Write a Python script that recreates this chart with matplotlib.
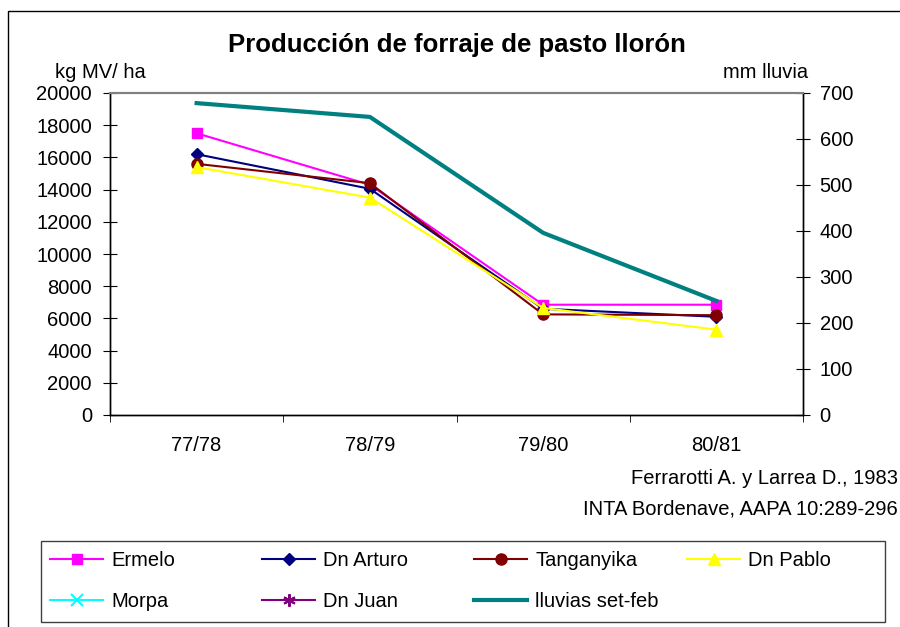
import matplotlib.pyplot as plt
import numpy as np

plt.rcParams['font.family'] = ['Liberation Sans', 'DejaVu Sans']

campanas = ['77/78', '78/79', '79/80', '80/81']
ermelo = [17500, 14300, 6850, 6850]
dn_arturo = [16200, 14050, 6600, 6100]
tanganyika = [15600, 14400, 6250, 6200]
dn_pablo = [15400, 13500, 6650, 5300]
morpa = [np.nan] * 4
dn_juan = [np.nan] * 4
lluvias = [678, 648, 396, 248]

FS = 14.5

fig = plt.figure(figsize=(9, 6.27), dpi=100)
ax = fig.add_axes([110 / 900, 1 - 415 / 627, 693 / 900, 322 / 627])
ax2 = ax.twinx()

x = np.arange(len(campanas))
h_erm, = ax.plot(x, ermelo, color='#ff00ff', marker='s', ms=6.5, lw=1.5, label='Ermelo')
h_art, = ax.plot(x, dn_arturo, color='#000080', marker='D', ms=6, lw=1.5, label='Dn Arturo')
h_tan, = ax.plot(x, tanganyika, color='#800000', marker='o', ms=8, lw=1.5, label='Tanganyika')
h_pab, = ax.plot(x, dn_pablo, color='#ffff00', marker='^', ms=8.5, lw=1.5, label='Dn Pablo')
h_mor, = ax.plot(x, morpa, color='#00ffff', marker='x', ms=8, mew=1.5, lw=1.5, label='Morpa')
h_jua, = ax.plot(x, dn_juan, color='#800080', marker=(6, 2, 0), ms=9, mew=1.5, lw=1.5, label='Dn Juan')
h_llu, = ax2.plot(x, lluvias, color='#008080', lw=3, label='lluvias set-feb')

ax.set_xlim(-0.5, 3.5)
ax.set_ylim(0, 20000)
ax.set_yticks(range(0, 20001, 2000))
ax2.set_ylim(0, 700)
ax2.set_yticks(range(0, 701, 100))
ax.set_xticks(x)
ax.set_xticklabels(campanas)
ax.set_xticks(np.arange(-0.5, 4, 1), minor=True)
ax.tick_params(axis='x', which='major', length=0, labelsize=FS, pad=15)
ax.tick_params(axis='x', which='minor', length=5, direction='out')
ax.tick_params(axis='y', length=10, direction='inout', labelsize=FS, pad=8)
ax2.tick_params(axis='y', length=10, direction='inout', labelsize=FS, pad=7)

for a in (ax, ax2):
    for s in a.spines.values():
        s.set_linewidth(1)
    a.spines['top'].set_color('#808080')
    a.spines['top'].set_linewidth(1.5)

fig.text(457 / 900, 1 - 45 / 627, 'Producción de forraje de pasto llorón',
         ha='center', va='center', fontsize=18.5, fontweight='bold')
fig.text(55 / 900, 1 - 72 / 627, 'kg MV/ ha', ha='left', va='center', fontsize=FS)
fig.text(808 / 900, 1 - 72 / 627, 'mm lluvia', ha='right', va='center', fontsize=FS)
fig.text(898 / 900, 1 - 479 / 627, 'Ferrarotti A. y Larrea D., 1983', ha='right', va='center', fontsize=FS)
fig.text(898 / 900, 1 - 509 / 627, 'INTA Bordenave, AAPA 10:289-296', ha='right', va='center', fontsize=FS)

# outer chart frame
fig.add_artist(plt.Rectangle((8 / 900, -0.01), 1.0, 1 - 11 / 627 + 0.01, transform=fig.transFigure,
                             fill=False, edgecolor='black', lw=1))

# legend frame and four columns
fig.add_artist(plt.Rectangle((41 / 900, 1 - 622 / 627), 844 / 900, 81 / 627, transform=fig.transFigure,
                             fill=False, edgecolor='#404040', lw=1))
columnas = [(50, [h_erm, h_mor]), (262, [h_art, h_jua]), (474, [h_tan, h_llu]), (687, [h_pab])]
for x0, hs in columnas:
    fig.legend(handles=hs, loc='upper left', bbox_to_anchor=(x0 / 900, 1 - 551 / 627),
               frameon=False, fontsize=FS, borderpad=0, borderaxespad=0,
               handlelength=2.65, handletextpad=0.4, labelspacing=1.1)

fig.savefig('out.png', dpi=100)
